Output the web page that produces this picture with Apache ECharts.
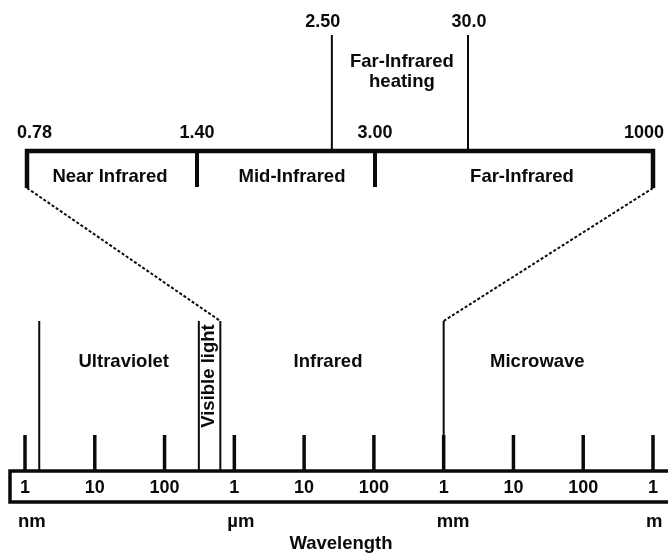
<!DOCTYPE html>
<html><head><meta charset="utf-8">
<script src="https://cdn.jsdelivr.net/npm/echarts@6/dist/echarts.min.js"></script>
<style>html,body{margin:0;padding:0;background:#fff}#c{width:668px;height:555px}</style>
</head><body><div id="c"></div>
<script>
// ---- Wavelength scale (values in nm) ----
const decadeTicks = [1, 10, 100, 1e3, 1e4, 1e5, 1e6, 1e7, 1e8, 1e9];
const tickLabels  = ['1', '10', '100', '1', '10', '100', '1', '10', '100', '1'];
const unitTicks   = [1, 1e3, 1e6, 1e9];
const unitNames   = ['nm', 'µm', 'mm', 'm'];
// region boundaries drawn as thin lines (nm)
const bandEdges   = [1.6, 310, 630, 1e6];
const bandNames   = ['Ultraviolet', 'Infrared', 'Microwave'];
const bandLabelAt = [26, 22000, 2.2e7];
const visibleName = 'Visible light';
const visibleRange = [310, 630];

// ---- Infrared detail bracket (µm) ----
const irBounds   = ['0.78', '1.40', '3.00', '1000'];
const irNames    = ['Near Infrared', 'Mid-Infrared', 'Far-Infrared'];
const heatBounds = ['2.50', '30.0'];
const heatName   = ['Far-Infrared', 'heating'];
// schematic (not to scale) stations along the bracket, as fraction of its width
const irStations   = [0, 0.2716, 0.5559, 1];
const heatStations = [0.487, 0.7045];

const INK = '#0a0a0a';
const FAM = '"Liberation Sans", Arial, Helvetica, sans-serif';
const FONT = 'bold 18px ' + FAM;
const WFONT = 'bold 18.5px ' + FAM;

function txt(x, y, text, align, extra, font) {
  return Object.assign({
    type: 'text', x: x, y: y,
    style: { text: text, font: font || FONT, fill: INK, align: align || 'center', verticalAlign: 'middle' }
  }, extra || {});
}

const chart = echarts.init(document.getElementById('c'), null, { renderer: 'canvas' });

const option = {
  animation: false,
  backgroundColor: '#fff',
  grid: [
    { left: 25, right: 15, top: 321, height: 150 },
    { left: 27, right: 15, top: 35, height: 116 }
  ],
  xAxis: [
    {
      type: 'log', gridIndex: 0, logBase: 10, min: 1, max: 1e9,
      axisLine: { show: false }, axisTick: { show: false }, splitLine: { show: false },
      axisLabel: {
        show: true, margin: 8, color: INK, fontSize: 18, fontWeight: 'bold', fontFamily: FAM,
        showMinLabel: true, showMaxLabel: true, hideOverlap: false,
        formatter: function (v) { const i = Math.round(Math.log10(v)); return tickLabels[i] !== undefined ? tickLabels[i] : ''; }
      },
      name: 'Wavelength', nameLocation: 'middle', nameGap: 63,
      nameTextStyle: { color: INK, fontSize: 18.5, fontWeight: 'bold', fontFamily: FAM, padding: [0, 0, 0, 4] }
    },
    { type: 'value', gridIndex: 1, min: 0, max: 1, show: false }
  ],
  yAxis: [
    { type: 'value', gridIndex: 0, min: 0, max: 1, show: false },
    { type: 'value', gridIndex: 1, min: 0, max: 1, show: false }
  ],
  series: [
    // outer box of the wavelength ruler
    {
      type: 'custom', xAxisIndex: 0, yAxisIndex: 0, silent: true, clip: false,
      data: [[decadeTicks[0], 0]],
      renderItem: function (params, api) {
        const p = api.coord([api.value(0), 0]);
        return { type: 'rect', shape: { x: p[0] - 15, y: p[1], width: 720, height: 31 },
          style: { fill: 'none', stroke: INK, lineWidth: 3.5 } };
      }
    },
    // decade tick marks
    {
      type: 'custom', xAxisIndex: 0, yAxisIndex: 0, silent: true, clip: false,
      data: decadeTicks.map(function (v) { return [v, 0]; }),
      renderItem: function (params, api) {
        const p = api.coord([api.value(0), 0]);
        return { type: 'line', shape: { x1: p[0], y1: p[1], x2: p[0], y2: p[1] - 36 },
          style: { stroke: INK, lineWidth: 3.5 } };
      }
    },
    // unit names under the ruler
    {
      type: 'custom', xAxisIndex: 0, yAxisIndex: 0, silent: true, clip: false,
      data: unitTicks.map(function (v) { return [v, 0]; }),
      renderItem: function (params, api) {
        const p = api.coord([api.value(0), 0]);
        return txt(p[0] - 7, p[1] + 51, unitNames[params.dataIndex], 'left', null, WFONT);
      }
    },
    // region boundary lines
    {
      type: 'custom', xAxisIndex: 0, yAxisIndex: 0, silent: true, clip: false,
      data: bandEdges.map(function (v) { return [v, 0]; }),
      renderItem: function (params, api) {
        const a = api.coord([api.value(0), 0]);
        const b = api.coord([api.value(0), 1]);
        return { type: 'line', shape: { x1: a[0], y1: a[1], x2: b[0], y2: b[1] },
          style: { stroke: INK, lineWidth: 2 } };
      }
    },
    // region names
    {
      type: 'custom', xAxisIndex: 0, yAxisIndex: 0, silent: true, clip: false,
      data: bandLabelAt.map(function (v) { return [v, 0.727]; }),
      renderItem: function (params, api) {
        const p = api.coord([api.value(0), api.value(1)]);
        return txt(p[0], p[1], bandNames[params.dataIndex], 'center', null, WFONT);
      }
    },
    // visible light (rotated)
    {
      type: 'custom', xAxisIndex: 0, yAxisIndex: 0, silent: true, clip: false,
      data: [[Math.sqrt(visibleRange[0] * visibleRange[1]), 0.633]],
      renderItem: function (params, api) {
        const p = api.coord([api.value(0), api.value(1)]);
        return txt(p[0] - 1, p[1], visibleName, 'center', { rotation: Math.PI / 2 }, WFONT);
      }
    },
    // IR bracket
    {
      type: 'custom', xAxisIndex: 1, yAxisIndex: 1, silent: true, clip: false,
      data: [[0, 0]],
      renderItem: function (params, api) {
        const pts = irStations.map(function (s) { return api.coord([s, 0]); });
        const drop = 37;
        const children = [];
        children.push({ type: 'polyline', shape: { points: [
            [pts[0][0], pts[0][1] + drop], [pts[0][0], pts[0][1]],
            [pts[3][0], pts[3][1]], [pts[3][0], pts[3][1] + drop]] },
          style: { fill: 'none', stroke: INK, lineWidth: 4.5, lineJoin: 'miter' } });
        for (let i = 1; i < pts.length - 1; i++) {
          children.push({ type: 'line', shape: { x1: pts[i][0], y1: pts[i][1], x2: pts[i][0], y2: pts[i][1] + drop - 1 },
            style: { stroke: INK, lineWidth: 4 } });
        }
        // boundary values above the bracket
        irBounds.forEach(function (t, i) {
          let x = pts[i][0], al = 'center';
          if (i === 0) { x -= 10; al = 'left'; }
          if (i === irBounds.length - 1) { x += 11; al = 'right'; }
          children.push(txt(x, pts[i][1] - 18, t, al));
        });
        // region names inside bracket
        irNames.forEach(function (t, i) {
          children.push(txt((pts[i][0] + pts[i + 1][0]) / 2 + (i === 0 ? -2 : (i === 1 ? 6 : 8)), pts[i][1] + 26, t, 'center', null, WFONT));
        });
        // far-infrared heating lines
        const h = heatStations.map(function (s) { return [api.coord([s, 0]), api.coord([s, 1])]; });
        h.forEach(function (pair, i) {
          children.push({ type: 'line', shape: { x1: pair[0][0], y1: pair[0][1], x2: pair[1][0], y2: pair[1][1] },
            style: { stroke: INK, lineWidth: 2 } });
          children.push(txt(pair[1][0] - (i === 0 ? 9 : -1), pair[1][1] - 13, heatBounds[i]));
        });
        const mx = (h[0][1][0] + h[1][1][0]) / 2 + 2;
        children.push(txt(mx, h[0][1][1] + 27, heatName[0], 'center', null, WFONT));
        children.push(txt(mx, h[0][1][1] + 47, heatName[1], 'center', null, WFONT));
        return { type: 'group', children: children };
      }
    }
  ]
};
chart.setOption(option);

// dashed connectors between the bracket ends and the infrared band
const dropPx = 37;
const l0 = chart.convertToPixel({ gridIndex: 1 }, [irStations[0], 0]);
const r0 = chart.convertToPixel({ gridIndex: 1 }, [irStations[3], 0]);
const l1 = chart.convertToPixel({ gridIndex: 0 }, [bandEdges[2], 1]);
const r1 = chart.convertToPixel({ gridIndex: 0 }, [bandEdges[3], 1]);
chart.setOption({
  graphic: [
    { type: 'line', silent: true, shape: { x1: l0[0], y1: l0[1] + dropPx, x2: l1[0], y2: l1[1] },
      style: { stroke: INK, lineWidth: 2, lineDash: [3, 2] } },
    { type: 'line', silent: true, shape: { x1: r0[0], y1: r0[1] + dropPx, x2: r1[0], y2: r1[1] },
      style: { stroke: INK, lineWidth: 2, lineDash: [3, 2] } }
  ]
});
</script>
</body></html>
